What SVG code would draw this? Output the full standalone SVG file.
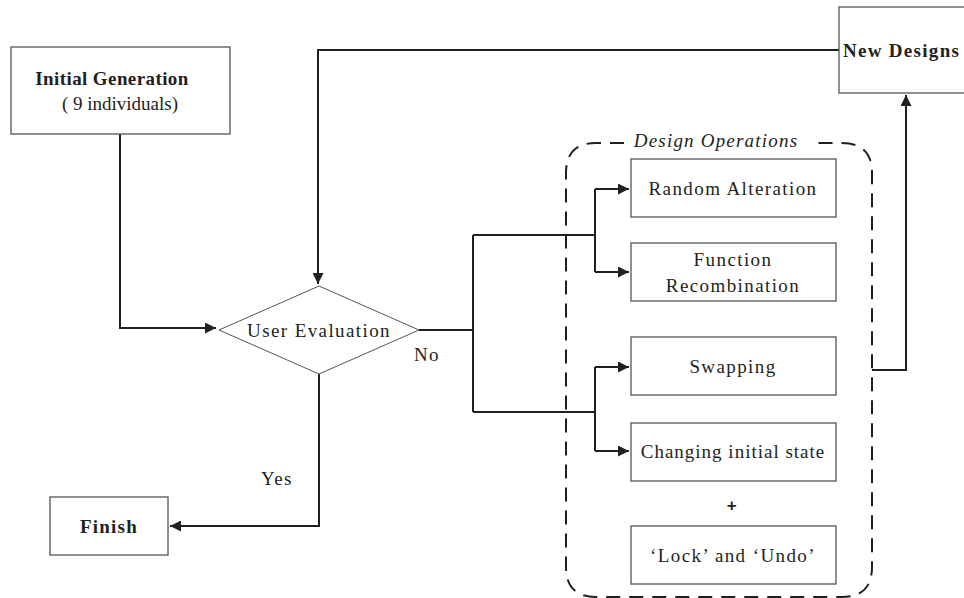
<svg xmlns="http://www.w3.org/2000/svg" width="964" height="598" viewBox="0 0 964 598">
<defs>
<marker id="arr" viewBox="0 0 10 10" refX="10" refY="5" markerWidth="11" markerHeight="11" markerUnits="userSpaceOnUse" orient="auto">
<path d="M0,0 L10,5 L0,10 z" fill="#231f20"/>
</marker>
<style>
.box{fill:#fff;stroke:#555;stroke-width:1.3}
.t{font-family:"Liberation Serif","Times New Roman",serif;font-size:19px;fill:#231f20;text-anchor:middle;letter-spacing:1.4px}
.b{font-weight:bold;letter-spacing:0.4px}
.c{fill:none;stroke:#231f20;stroke-width:2}
.dash{fill:none;stroke:#231f20;stroke-width:2;stroke-dasharray:14,9}
</style>
</defs>
<rect width="964" height="598" fill="#fff"/>
<g id="connectors">
<path class="c" d="M120,134 V328 H216" marker-end="url(#arr)"/>
<path class="c" d="M839,50 H318 V284" marker-end="url(#arr)"/>
<path class="c" d="M419,330 H473 M473,235 V412 M473,235 H595 M473,412 H595"/>
<path class="c" d="M595,189 V272"/>
<path class="c" d="M595,189 H629" marker-end="url(#arr)"/>
<path class="c" d="M595,272 H629" marker-end="url(#arr)"/>
<path class="c" d="M595,367 V451"/>
<path class="c" d="M595,367 H629" marker-end="url(#arr)"/>
<path class="c" d="M595,451 H629" marker-end="url(#arr)"/>
<path class="c" d="M872,370 H906 V95" marker-end="url(#arr)"/>
<path class="c" d="M319,374 V526 H170" marker-end="url(#arr)"/>
</g>
<g id="design-operations">
<path class="dash" d="M624,143 H596 Q566,143 566,173 V567 Q566,597 596,597 H842 Q872,597 872,567 V173 Q872,143 842,143 H812"/>
<text x="716" y="147" class="t" style="font-style:italic;font-size:19px;letter-spacing:1.2px">Design Operations</text>
</g>
<g id="initial-generation">
<rect class="box" x="11" y="47" width="219" height="87"/>
<text x="112" y="85" class="t b">Initial Generation</text>
<text x="120" y="110" class="t" style="letter-spacing:0">( 9 individuals)</text>
</g>
<g id="new-designs">
<rect class="box" x="839" y="7" width="140" height="86"/>
<text x="843" y="57" class="t b" style="text-anchor:start;letter-spacing:1.3px">New Designs</text>
</g>
<g id="user-evaluation">
<path class="box" d="M319,286 L419,330 L319,374 L219,330 Z" style="stroke-width:1"/>
<text x="319" y="337" class="t">User Evaluation</text>
</g>
<g id="random-alteration">
<rect class="box" x="631" y="159" width="205" height="58"/>
<text x="733" y="195" class="t">Random Alteration</text>
</g>
<g id="function-recombination">
<rect class="box" x="631" y="243" width="205" height="58"/>
<text x="733" y="266" class="t">Function</text>
<text x="733" y="292" class="t">Recombination</text>
</g>
<g id="swapping">
<rect class="box" x="631" y="337" width="205" height="58"/>
<text x="733" y="373" class="t">Swapping</text>
</g>
<g id="changing-initial-state">
<rect class="box" x="631" y="423" width="205" height="58"/>
<text x="733" y="458" class="t" style="letter-spacing:1px">Changing initial state</text>
</g>
<g id="plus">
<text x="732" y="511" class="t b" style="font-family:'Liberation Sans',Arial,sans-serif;font-size:17px">+</text>
</g>
<g id="lock-undo">
<rect class="box" x="631" y="526" width="205" height="58"/>
<text x="733" y="562" class="t">‘Lock’ and ‘Undo’</text>
</g>
<g id="finish">
<rect class="box" x="50" y="497" width="118" height="58"/>
<text x="109" y="533" class="t b" style="letter-spacing:1.2px">Finish</text>
</g>
<g id="labels">
<text x="427" y="361" class="t">No</text>
<text x="277" y="485" class="t">Yes</text>
</g>
</svg>
